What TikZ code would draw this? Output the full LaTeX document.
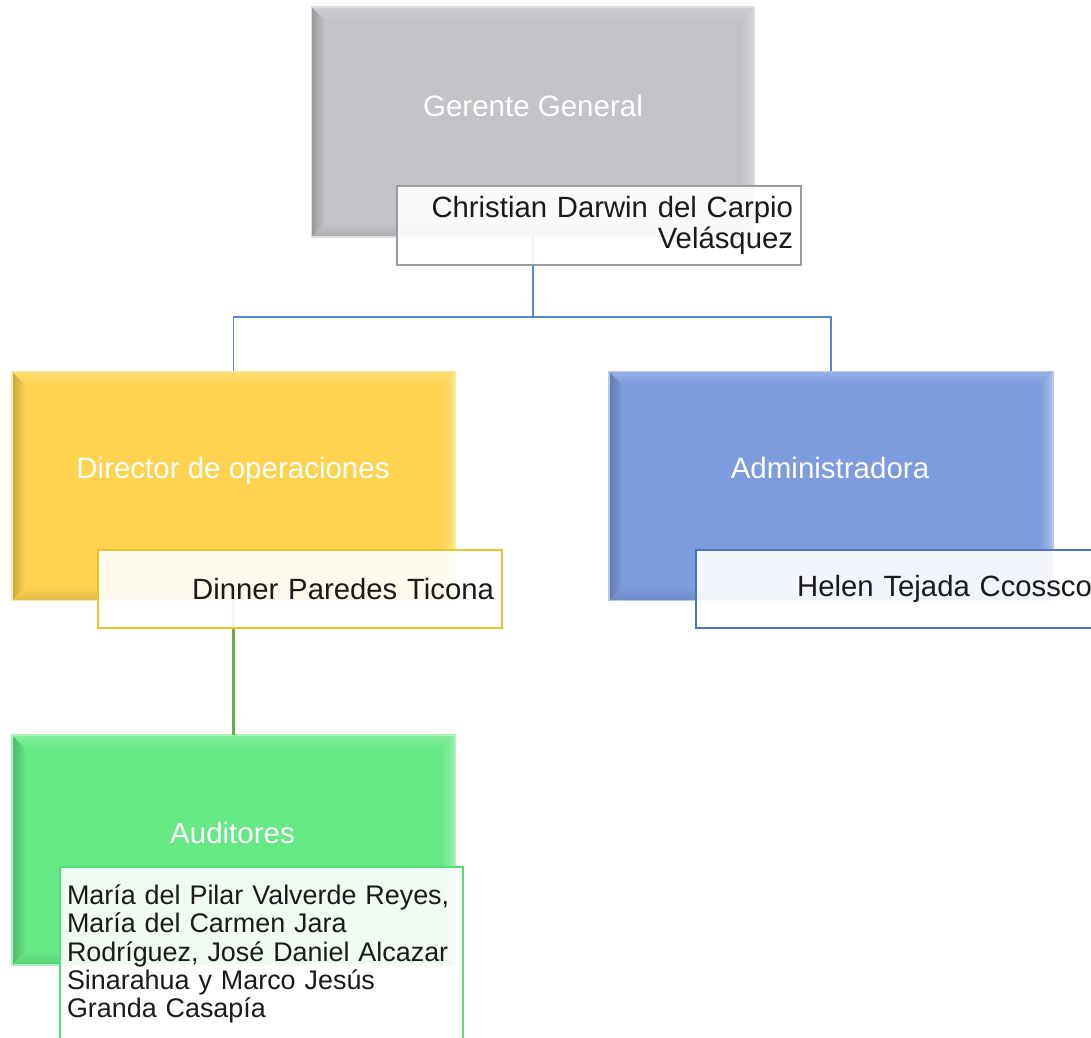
\documentclass[tikz,border=0pt]{standalone}
\usepackage{fontspec}
\setmainfont{Liberation Sans}
\definecolor{cgray}{HTML}{C3C3C8}
\definecolor{cyellow}{HTML}{FED350}
\definecolor{cblue}{HTML}{7C9CDE}
\definecolor{cgreen}{HTML}{66E885}
\definecolor{lgray}{HTML}{9C9C9E}
\definecolor{lyellow}{HTML}{EBC42C}
\definecolor{lblue}{HTML}{4C74C6}
\definecolor{lgreen}{HTML}{52E076}
\definecolor{conblue}{HTML}{5A86D6}
\definecolor{congreen}{HTML}{6AAE3E}
\definecolor{ntext}{HTML}{1A1A1A}
\newcommand\bevelbox[2]{%
  \shade[left color=#2!78!black, right color=#2] (#1.north west) -- (#1.south west) -- ([shift={(14pt,14pt)}]#1.south west) -- ([shift={(14pt,-14pt)}]#1.north west) -- cycle;
  \shade[top color=#2!80!white, bottom color=#2] (#1.north west) -- (#1.north east) -- ([shift={(-14pt,-14pt)}]#1.north east) -- ([shift={(14pt,-14pt)}]#1.north west) -- cycle;
  \shade[left color=#2, right color=#2!65!white] (#1.north east) -- (#1.south east) -- ([shift={(-14pt,14pt)}]#1.south east) -- ([shift={(-14pt,-14pt)}]#1.north east) -- cycle;
  \shade[top color=#2, bottom color=#2!88!black] (#1.south west) -- (#1.south east) -- ([shift={(-14pt,14pt)}]#1.south east) -- ([shift={(14pt,14pt)}]#1.south west) -- cycle;
  \draw[#2!55!white, line width=1.5pt] (#1.north west) rectangle (#1.south east);
}
\tikzset{
  mainbox/.style={rectangle, inner sep=0pt, minimum width=443pt, minimum height=229pt},
  htext/.style={anchor=base, text=white, font=\fontsize{29.5}{31}\selectfont, inner sep=0pt},
  namebox/.style={rectangle, line width=2.5pt, fill=white, fill opacity=0.9, text opacity=1,
     text=ntext, minimum width=404pt, minimum height=78pt, inner xsep=8pt, inner ysep=0pt,
     text width=388pt, align=right, font=\fontsize{29.3}{31}\selectfont},
  conb/.style={conblue, line width=1.8pt},
  cong/.style={congreen, line width=2.2pt},
}
\begin{document}
\begin{tikzpicture}[x=1pt,y=-1pt]
\useasboundingbox (0,0) rectangle (1091,1037);
\clip (0,0) rectangle (1091,1037);
% main boxes
\node[mainbox, fill=cgray, minimum height=230pt] (gg) at (533,122) {};
\bevelbox{gg}{cgray}
\node[mainbox, fill=cyellow] (dir) at (233.5,486) {};
\bevelbox{dir}{cyellow}
\node[mainbox, fill=cblue, minimum width=444pt] (adm) at (831,486) {};
\bevelbox{adm}{cblue}
\node[mainbox, fill=cgreen, minimum height=230pt] (aud) at (233.5,850) {};
\bevelbox{aud}{cgreen}
% titles
\node[htext] (ggt) at (533,116) {Gerente General};
\node[htext] (dirt) at (233,478) {Director de operaciones};
\node[htext] (admt) at (830,478) {Administradora};
\node[htext] (audt) at (232.5,843) {Auditores};
% connectors
\coordinate (bus) at (533,317);
\draw[conb] (gg.south) -- (bus) -| (dir.north);
\draw[conb] (bus) -| (adm.north);
\draw[cong] (dir.south) -- (aud.north);
% name boxes
\node[namebox, draw=lgray, minimum height=79pt] (ggn) at (599,225.5) {Christian Darwin del Carpio\\Velásquez};
\node[namebox, draw=lyellow] (dirn) at (300,589) {Dinner Paredes Ticona};
\node[namebox, draw=lblue] (admn) at (898,589) {Helen Tejada Ccossco};
\node[namebox, draw=lgreen, minimum width=403pt, minimum height=174pt, inner xsep=7pt,
      text width=389pt, align=left, font=\fontsize{26.9}{28.3}\selectfont] (audn) at (261.5,954)
  {María del Pilar Valverde Reyes,\\María del Carmen Jara\\Rodríguez, José Daniel Alcazar\\Sinarahua y Marco Jesús\\Granda Casapía};
\end{tikzpicture}
\end{document}
